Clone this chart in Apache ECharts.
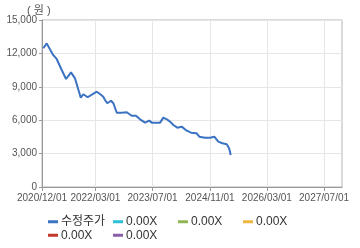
<!DOCTYPE html>
<html><head><meta charset="utf-8">
<script src="https://cdn.jsdelivr.net/npm/echarts@6/dist/echarts.min.js"></script>
<style>html,body{margin:0;padding:0;background:#fff}#c{width:360px;height:248px}</style>
</head><body><div id="c"></div>
<script>
const dates = ['2020-12-12','2021-01-10','2021-03-02','2021-04-05','2021-05-18','2021-06-24','2021-08-05','2021-09-08','2021-10-27','2021-11-18','2021-12-25','2022-03-12','2022-04-09','2022-05-07','2022-05-22','2022-06-10','2022-07-12','2022-08-01','2022-08-30','2022-10-11','2022-11-23','2023-01-04','2023-02-10','2023-03-16','2023-04-28','2023-06-03','2023-06-24','2023-09-03','2023-10-01','2023-10-30','2023-11-27','2023-12-25','2024-01-28','2024-03-05','2024-04-17','2024-05-24','2024-07-11','2024-08-02','2024-09-20','2024-11-02','2024-12-08','2025-01-11','2025-02-14','2025-03-24','2025-04-13','2025-04-27'];
const prices = [12460,12900,11920,11500,10510,9700,10300,9760,8020,8330,8060,8560,8350,8110,7810,7520,7750,7520,6670,6670,6710,6400,6400,6080,5780,5960,5780,5780,6230,6080,5870,5570,5330,5420,5060,4880,4820,4520,4430,4430,4520,4070,3930,3840,3480,2870];
const xTickDates = ['2020-12-01','2022-03-01','2023-07-01','2024-11-01','2026-03-01','2027-07-01'];
const xMin = '2020-12-01', xMax = '2027-12-01';
const yTicks = [0,3000,6000,9000,12000,15000];
const legendNames = ['수정주가','0.00X ','0.00X  ','0.00X   ','0.00X    ','0.00X     '];
const colors = ['#3b73c2','#2cbfd6','#8fb556','#f0b440','#c0392b','#8a5fa8'];

const ts = s => new Date(s + 'T00:00:00Z').getTime();
const fmt = v => { const d = new Date(v); const p = n => String(n).padStart(2,'0'); return d.getUTCFullYear()+'/'+p(d.getUTCMonth()+1)+'/'+p(d.getUTCDate()); };
const FONT = '"Liberation Sans","Noto Sans CJK KR",sans-serif';

const series = legendNames.map((n,i) => ({
  name: n, type: 'line', symbol: 'none', color: colors[i],
  lineStyle: {width: 2, color: colors[i]},
  data: i === 0 ? dates.map((d,k) => [ts(d), prices[k]]) : []
}));

const chart = echarts.init(document.getElementById('c'), null, {renderer:'canvas'});
chart.setOption({
  backgroundColor: '#fff',
  animation: false,
  textStyle: {fontFamily: FONT},
  grid: {left: 42, right: 18, top: 20, bottom: 61, show: true, borderColor: '#b4b4b4', borderWidth: 1, outerBoundsMode: 'none', containLabel: false},
  xAxis: {
    type: 'value', min: ts(xMin), max: ts(xMax),
    axisLine: {show: true, onZero: false, lineStyle: {color: '#999'}},
    axisTick: {show: true, length: 4, lineStyle: {color: '#999'}, customValues: xTickDates.map(ts)},
    axisLabel: {customValues: xTickDates.map(ts), formatter: v => fmt(v), color: '#555', fontSize: 10, margin: 6, fontFamily: FONT, hideOverlap: false},
    splitLine: {show: true, lineStyle: {color: '#e6e6e6'}}
  },
  yAxis: {
    type: 'value', min: 0, max: 15000, interval: 3000,
    axisLine: {show: true, lineStyle: {color: '#999'}},
    axisTick: {show: true, length: 3, lineStyle: {color: '#999'}},
    axisLabel: {color: '#555', fontSize: 10, margin: 5, fontFamily: FONT, formatter: v => v.toLocaleString('en-US')},
    splitLine: {show: true, lineStyle: {color: '#e6e6e6'}}
  },
  graphic: [{type: 'text', left: 27, top: 5, style: {text: '( 원 )', fill: '#555', font: '11px ' + FONT}}],
  legend: {
    left: 48, top: 215, padding: 0, width: 280, itemGap: 0, itemWidth: 10, itemHeight: 3, icon: 'rect',
    data: legendNames,
    formatter: n => n.trim(),
    textStyle: {color: '#333', fontSize: 12, width: 52, lineHeight: 13.5, fontFamily: FONT, padding: [0,0,0,-2]}
  },
  series: series
});
</script></body></html>
